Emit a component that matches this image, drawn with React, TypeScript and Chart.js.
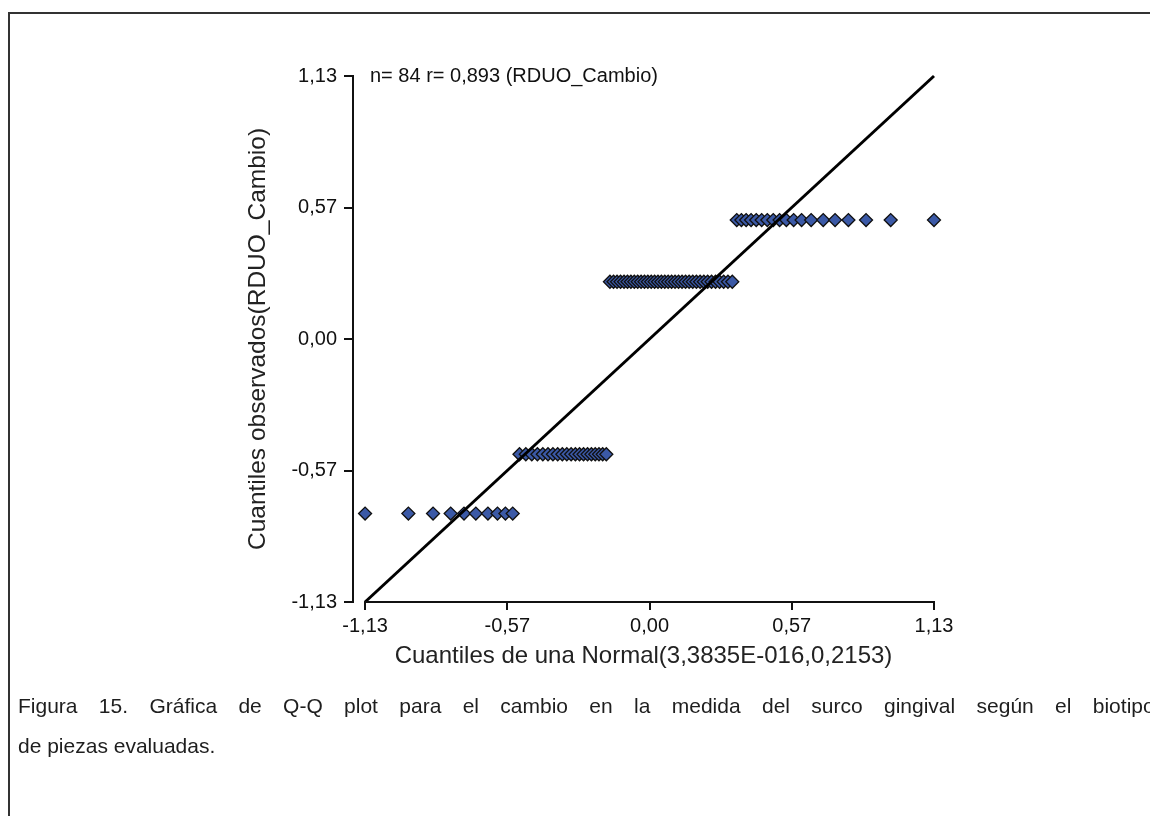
import React, { useEffect, useRef } from "react";
import { Chart, registerables } from "chart.js";

Chart.register(...registerables);

// Normal quantiles (x), sorted ascending
const xQuantiles = [
  -1.13, -0.958, -0.86, -0.79, -0.737, -0.69, -0.642, -0.604, -0.5725, -0.5435,
  -0.5166, -0.4915, -0.4678, -0.4454, -0.4239, -0.4034, -0.3838, -0.3649, -0.3464, -0.3287,
  -0.3114, -0.2945, -0.2782, -0.2622, -0.2463, -0.2309, -0.2157, -0.2008, -0.1862, -0.1717,
  -0.1573, -0.1431, -0.1291, -0.1152, -0.1013, -0.0876, -0.074, -0.0605, -0.047, -0.0336,
  -0.0201, -0.0067, 0.0067, 0.0201, 0.0336, 0.047, 0.0605, 0.074, 0.0876, 0.1013,
  0.1152, 0.1291, 0.1431, 0.1573, 0.1717, 0.1862, 0.2008, 0.2157, 0.2309, 0.2463,
  0.2622, 0.2782, 0.2945, 0.3114, 0.3287, 0.3464, 0.3649, 0.3838, 0.4034, 0.4239,
  0.4454, 0.4678, 0.4915, 0.5166, 0.5435, 0.5725, 0.604, 0.642, 0.69, 0.737,
  0.79, 0.86, 0.958, 1.13,
];

// Observed quantiles (y) for RDUO_Cambio
const yObserved = [
  -0.75, -0.75, -0.75, -0.75, -0.75, -0.75, -0.75, -0.75, -0.75, -0.75,
  -0.495, -0.495, -0.495, -0.495, -0.495, -0.495, -0.495, -0.495, -0.495, -0.495,
  -0.495, -0.495, -0.495, -0.495, -0.495, -0.495, -0.495, -0.495, -0.495, -0.495,
  0.246, 0.246, 0.246, 0.246, 0.246, 0.246, 0.246, 0.246, 0.246, 0.246,
  0.246, 0.246, 0.246, 0.246, 0.246, 0.246, 0.246, 0.246, 0.246, 0.246,
  0.246, 0.246, 0.246, 0.246, 0.246, 0.246, 0.246, 0.246, 0.246, 0.246,
  0.246, 0.246, 0.246, 0.246, 0.246, 0.511, 0.511, 0.511, 0.511, 0.511,
  0.511, 0.511, 0.511, 0.511, 0.511, 0.511, 0.511, 0.511, 0.511, 0.511,
  0.511, 0.511, 0.511, 0.511,
];

const refLineX = [-1.13, 1.13];
const refLineY = [-1.13, 1.13];

const tickValues = [-1.13, -0.565, 0, 0.565, 1.13];
const tickLabels = ["-1,13", "-0,57", "0,00", "0,57", "1,13"];

const annotationText = "n= 84 r= 0,893 (RDUO_Cambio)";
const xTitle = "Cuantiles de una Normal(3,3835E-016,0,2153)";
const yTitle = "Cuantiles observados(RDUO_Cambio)";
const captionLine1 =
  "Figura 15. Gráfica de Q-Q plot para el cambio en la medida del surco gingival según el biotipo";
const captionLine2 = "de piezas evaluadas.";

const FONT = "'Liberation Sans', Arial, sans-serif";
const X_MIN = -1.178;

function labelFor(v: number) {
  let best = 0;
  for (let i = 1; i < tickValues.length; i++) {
    if (Math.abs(tickValues[i] - v) < Math.abs(tickValues[best] - v)) best = i;
  }
  return tickLabels[best];
}

export default function App() {
  const ref = useRef<HTMLCanvasElement | null>(null);

  useEffect(() => {
    const canvas = ref.current;
    if (!canvas) return;

    const annotationPlugin = {
      id: "annot",
      afterDatasetsDraw(chart: any) {
        const { ctx, chartArea, scales } = chart;
        ctx.save();
        // x axis line from first to last tick
        const x0 = scales.x.getPixelForValue(tickValues[0]);
        const x1 = scales.x.getPixelForValue(tickValues[tickValues.length - 1]);
        ctx.strokeStyle = "#111";
        ctx.lineWidth = 2;
        ctx.beginPath();
        ctx.moveTo(x0 - 1, chartArea.bottom);
        ctx.lineTo(x1 + 1, chartArea.bottom);
        ctx.stroke();
        // annotation text
        ctx.fillStyle = "#111";
        ctx.font = `20px ${FONT}`;
        ctx.textBaseline = "middle";
        ctx.textAlign = "left";
        ctx.fillText(annotationText, chartArea.left + 17, chartArea.top);
        ctx.restore();
      },
    };

    const chart = new Chart(canvas, {
      type: "scatter",
      data: {
        datasets: [
          {
            type: "line",
            data: refLineX.map((x, i) => ({ x, y: refLineY[i] })),
            borderColor: "#000",
            borderWidth: 3,
            pointRadius: 0,
            order: 0,
            clip: false,
          } as any,
          {
            type: "scatter",
            data: xQuantiles.map((x, i) => ({ x, y: yObserved[i] })),
            pointStyle: "rectRot",
            pointRadius: 6.5,
            backgroundColor: "#3b59a6",
            borderColor: "#101010",
            borderWidth: 1.3,
            order: 1,
            clip: false,
          } as any,
        ],
      },
      options: {
        responsive: false,
        animation: false,
        events: [],
        layout: { padding: { left: 0, top: 68, right: 216, bottom: 0 } },
        plugins: {
          legend: { display: false },
          tooltip: { enabled: false },
        },
        scales: {
          x: {
            type: "linear",
            min: X_MIN,
            max: 1.13,
            afterBuildTicks: (s: any) => {
              s.ticks = tickValues.map((v) => ({ value: v }));
            },
            afterFit: (s: any) => {
              s.height = 96;
            },
            ticks: {
              callback: (v: any) => labelFor(Number(v)),
              font: { family: FONT, size: 20 },
              color: "#111",
              padding: 4,
              autoSkip: false,
              maxRotation: 0,
            },
            grid: {
              drawOnChartArea: false,
              drawTicks: true,
              tickLength: 8,
              color: "#111",
              lineWidth: 2,
            },
            border: { display: false },
            title: {
              display: true,
              text: xTitle,
              font: { family: FONT, size: 24 },
              color: "#222",
              padding: { top: 0, bottom: 27 },
            },
          },
          y: {
            type: "linear",
            min: -1.13,
            max: 1.13,
            afterBuildTicks: (s: any) => {
              s.ticks = tickValues.map((v) => ({ value: v }));
            },
            afterFit: (s: any) => {
              s.width = 345;
            },
            ticks: {
              callback: (v: any) => labelFor(Number(v)),
              font: { family: FONT, size: 20 },
              color: "#111",
              padding: 7,
              autoSkip: false,
            },
            grid: {
              drawOnChartArea: false,
              drawTicks: true,
              tickLength: 9,
              color: "#111",
              lineWidth: 2,
            },
            border: { display: true, color: "#111", width: 2 },
            title: {
              display: true,
              text: yTitle,
              font: { family: FONT, size: 24.5 },
              color: "#222",
              padding: { top: 236, bottom: 0 },
            },
          },
        },
      },
      plugins: [annotationPlugin],
    } as any);

    return () => {
      chart.destroy();
    };
  }, []);

  return (
    <div
      style={{
        position: "fixed",
        left: 0,
        top: 0,
        width: 1150,
        height: 816,
        overflow: "hidden",
        background: "#fff",
      }}
    >
      <div
        style={{
          position: "absolute",
          left: 8,
          top: 12,
          width: 1400,
          height: 1000,
          border: "2px solid #333",
          boxSizing: "border-box",
        }}
      />
      <canvas
        ref={ref}
        width={1142}
        height={690}
        style={{ position: "absolute", left: 8, top: 8, width: 1142, height: 690 }}
      />
      <div
        style={{
          position: "absolute",
          left: 18,
          top: 686,
          fontFamily: FONT,
          fontSize: 21,
          color: "#1e1e1e",
          lineHeight: "40px",
          whiteSpace: "nowrap",
        }}
      >
        <div style={{ wordSpacing: 15.5 }}>{captionLine1}</div>
        <div>{captionLine2}</div>
      </div>
    </div>
  );
}
